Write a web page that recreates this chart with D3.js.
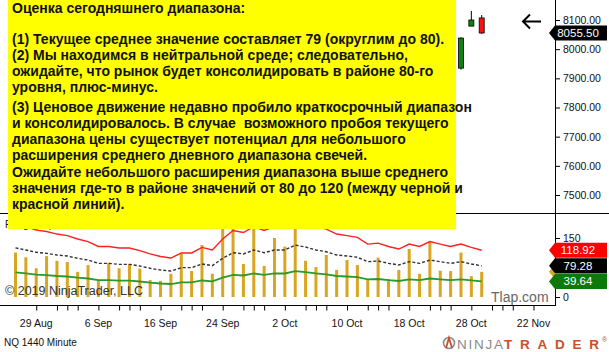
<!DOCTYPE html>
<html lang="ru">
<head>
    <meta charset="UTF-8">
    <title>NQ 1440 Minute</title>
    <script src="https://d3js.org/d3.v7.min.js"></script>
    <style>
        body { margin: 0; background: #fff; }
        svg { display: block; font-family: "Liberation Sans", Arial, sans-serif; }
        .note { font-size: 14px; font-weight: bold; fill: #111; white-space: pre; }
        .axis-lbl { font-size: 10.5px; fill: #111; }
    </style>
</head>
<body>
<div id="chart"></div>
<script>
// daily bars, 27 Aug .. 29 Oct 2019
const barDates = ["27 Aug","28 Aug","29 Aug","30 Aug","2 Sep","3 Sep","4 Sep","5 Sep","6 Sep",
    "9 Sep","10 Sep","11 Sep","12 Sep","13 Sep","16 Sep","17 Sep","18 Sep","19 Sep","20 Sep",
    "23 Sep","24 Sep","25 Sep","26 Sep","27 Sep","30 Sep","1 Oct","2 Oct","3 Oct","4 Oct",
    "7 Oct","8 Oct","9 Oct","10 Oct","11 Oct","14 Oct","15 Oct","16 Oct","17 Oct","18 Oct",
    "21 Oct","22 Oct","23 Oct","24 Oct","25 Oct","28 Oct","29 Oct"];

// daily range (orange bars)
const rangeVals = [113, 101, 73, 104, 92, 89, 64, 81, 42, 87, 73, 84, 72, 43, 41, 59, 111, 66, 132, 59,
    190, 215, 84, 200, 79, 150, 128, 230, 92, 76, 107, 69, 94, 81, 43, 100, 46, 69, 122, 59,
    141, 67, 66, 113, 53, 64];

// average range (black dashed), upper (red), lower (green)
const avgVals = [125, 119.5, 113.6, 111, 106.8, 104.2, 98.3, 94, 85.6, 85.6, 83, 83, 78.8, 73, 68.6, 66,
    74.6, 74.6, 84, 79.7, 98.3, 112.7, 109.4, 119.5, 112.7, 119.5, 119.5, 132, 127, 119.5, 115, 106.8,
    104.2, 101, 89.8, 91.5, 85.6, 81.4, 89.8, 85.6, 94, 89.8, 85.6, 89.8, 84, 79.28];
const upperVals = [187.5, 179, 170, 166.5, 160, 156, 147.5, 141, 128.5, 128.5, 124.5, 124.5, 118, 109.5, 103, 99,
    112, 112, 126, 119.5, 147.5, 169, 164, 179, 169, 179, 179, 198, 190.5, 179, 172.5, 160,
    156, 151.5, 134.5, 137, 128.5, 122, 134.5, 128.5, 141, 134.5, 128.5, 134.5, 126, 118.92];
const lowerVals = [62.5, 59.8, 56.8, 55.5, 53.4, 52.1, 49.2, 47, 42.8, 42.8, 41.5, 41.5, 39.4, 36.5, 34.3, 33,
    37.3, 37.3, 42, 39.9, 49.2, 56.4, 54.7, 59.8, 56.4, 59.8, 59.8, 66, 63.5, 59.8, 57.5, 53.4,
    52.1, 50.5, 44.9, 45.8, 42.8, 40.7, 44.9, 42.8, 47, 44.9, 42.8, 44.9, 42, 39.64];

// visible candles (the rest is behind the note)
const candleIdx = [43, 44, 45];
const candleOpen = [7935, 8079, 8107];
const candleHigh = [8041, 8131, 8117];
const candleLow = [7930, 8079, 8053];
const candleClose = [8038, 8100, 8055.5];
const lastPrice = 8055.50;

const priceTicks = [8100, 8000, 7900, 7800, 7700, 7600, 7500];
const rangeTicks = [150, 0];
const dateTickIdx = [2, 8, 14, 20, 26, 32, 38, 44, 50];
const dateTickLabels = ["29 Aug", "6 Sep", "16 Sep", "24 Sep", "2 Oct", "10 Oct", "18 Oct", "28 Oct", "22 Nov"];

const noteLines = [
    "Оценка сегодняшнего диапазона:",
    "",
    "(1) Текущее среднее значение составляет 79 (округлим до 80).",
    "(2) Мы находимся в нейтральной среде; следовательно,",
    "ожидайте, что рынок будет консолидировать в районе 80-го",
    "уровня, плюс-минус.",
    "(3) Ценовое движение недавно пробило краткосрочный диапазон",
    "и консолидировалось. В случае  возможного пробоя текущего",
    "диапазона цены существует потенциал для небольшого",
    "расширения среднего дневного диапазона свечей.",
    "Ожидайте небольшого расширения диапазона выше среднего",
    "значения где-то в районе значений от 80 до 120 (между черной и",
    "красной линий)."
];
const noteBaselines = [13, 0, 44, 60, 76, 92, 112, 128, 144, 160, 177, 193, 209];

const W = 609, H = 352;
const axisX = 555, axisY = 305;

const svg = d3.select("#chart").append("svg")
    .attr("width", W).attr("height", H);

svg.append("rect").attr("width", W).attr("height", H).attr("fill", "#fff");

const x = d3.scaleLinear().domain([0, 50]).range([15.5, 533.5]);
const yP = d3.scaleLinear().domain([7500, 8100]).range([195, 20]);
const yR = d3.scaleLinear().domain([0, 150]).range([297, 238]);

// indicator title (mostly hidden)
svg.append("text").attr("x", 5).attr("y", 228)
    .attr("font-size", 10).attr("fill", "#111").text("Range(14)");

// range bars
svg.selectAll(".rbar").data(rangeVals).enter().append("rect")
    .attr("class", "rbar")
    .attr("x", (d, i) => x(i) - 1.5)
    .attr("width", 3)
    .attr("y", d => yR(d))
    .attr("height", d => yR(0) - yR(d))
    .attr("fill", "#DAA520");

const line = d3.line().x((d, i) => x(i)).y(d => yR(d));

svg.append("path").datum(lowerVals).attr("d", line)
    .attr("fill", "none").attr("stroke", "#2a9a2a").attr("stroke-width", 1.8);
svg.append("path").datum(avgVals).attr("d", line)
    .attr("fill", "none").attr("stroke", "#333").attr("stroke-width", 1.4)
    .attr("stroke-dasharray", "3,2");
svg.append("path").datum(upperVals).attr("d", line)
    .attr("fill", "none").attr("stroke", "#ff2020").attr("stroke-width", 1.4);

svg.append("text").attr("x", 5).attr("y", 295)
    .attr("font-size", 12.5).attr("fill", "#333").text("© 2019 NinjaTrader, LLC");
svg.append("text").attr("x", 491).attr("y", 302)
    .attr("font-size", 14).attr("fill", "#666").text("Tlap.com");

// candles
candleIdx.forEach((ci, k) => {
    const up = candleClose[k] >= candleOpen[k];
    svg.append("line")
        .attr("x1", x(ci)).attr("x2", x(ci))
        .attr("y1", yP(candleHigh[k])).attr("y2", yP(candleLow[k]))
        .attr("stroke", "#000").attr("stroke-width", 1);
    const top = yP(Math.max(candleOpen[k], candleClose[k]));
    const bot = yP(Math.min(candleOpen[k], candleClose[k]));
    svg.append("rect")
        .attr("x", x(ci) - 2.5).attr("width", 5)
        .attr("y", top).attr("height", Math.max(1, bot - top))
        .attr("fill", up ? "#108010" : "#ff1010")
        .attr("stroke", "#000").attr("stroke-width", 0.8);
});

// arrow
svg.append("path")
    .attr("d", "M541,21.5H523M530,14.5L523,21.5L530,28.5")
    .attr("fill", "none").attr("stroke", "#000").attr("stroke-width", 2);

// panel frame lines
svg.append("line").attr("x1", 0).attr("x2", W).attr("y1", 213.5).attr("y2", 213.5).attr("stroke", "#000");
svg.append("line").attr("x1", axisX + 0.5).attr("x2", axisX + 0.5).attr("y1", 0).attr("y2", axisY + 1).attr("stroke", "#000");

// right price axis
const pAxis = svg.append("g").attr("transform", `translate(${axisX},0)`)
    .call(d3.axisRight(yP).tickValues(priceTicks).tickSize(5).tickPadding(3).tickFormat(d3.format(".2f")));
pAxis.select(".domain").remove();
pAxis.selectAll("text").attr("class", "axis-lbl").attr("fill", null);

const rAxis = svg.append("g").attr("transform", `translate(${axisX},0)`)
    .call(d3.axisRight(yR).tickValues(rangeTicks).tickSize(5).tickPadding(3));
rAxis.select(".domain").remove();
rAxis.selectAll("text").attr("class", "axis-lbl").attr("fill", null);

// value tags
function tag(cy, txt, fill) {
    const x0 = 549, x1 = 607, h = 15;
    svg.append("path")
        .attr("d", `M${x0},${cy}L${x0 + 6},${cy - h / 2}H${x1}V${cy + h / 2}H${x0 + 6}Z`)
        .attr("fill", fill);
    if (txt) {
        svg.append("text").attr("x", 578).attr("y", cy + 4)
            .attr("text-anchor", "middle").attr("font-size", 11.5)
            .attr("fill", "#fff").text(txt);
    }
}
tag(yP(lastPrice), d3.format(".2f")(lastPrice), "#000");
tag(yR(rangeVals[rangeVals.length - 1]), "", "#DAA520");
tag(yR(upperVals[upperVals.length - 1]), d3.format(".2f")(upperVals[upperVals.length - 1]), "#ff0000");
tag(yR(avgVals[avgVals.length - 1]), d3.format(".2f")(avgVals[avgVals.length - 1]), "#000");
tag(yR(lowerVals[lowerVals.length - 1]), d3.format(".2f")(lowerVals[lowerVals.length - 1]), "#0a7a0a");

// date axis
const minorIdx = [];
dateTickIdx.forEach(i => { if (i + 4 <= 50) minorIdx.push(i + 2, i + 3, i + 4); });
const xAxisG = svg.append("g").attr("transform", `translate(0,${axisY + 0.5})`);
xAxisG.append("line").attr("x1", 0).attr("x2", axisX + 1).attr("stroke", "#000");
xAxisG.call(d3.axisBottom(x).tickValues(dateTickIdx.concat(minorIdx)).tickSize(5).tickFormat(""));
xAxisG.select(".domain").remove();
svg.append("g").selectAll("text").data(dateTickIdx).enter().append("text")
    .attr("class", "axis-lbl")
    .attr("x", d => x(d)).attr("y", 327)
    .attr("text-anchor", "middle")
    .text((d, i) => dateTickLabels[i]);

svg.append("text").attr("x", 4).attr("y", 346)
    .attr("font-size", 10).attr("fill", "#111").text("NQ 1440 Minute");

// logo
const logo = svg.append("g");
logo.append("circle").attr("cx", 449).attr("cy", 343).attr("r", 5.5)
    .attr("fill", "none").attr("stroke", "#8a8a8a").attr("stroke-width", 1.6);
logo.append("path").attr("d", "M446,348L449,338L452,348")
    .attr("fill", "none").attr("stroke", "#c8502c").attr("stroke-width", 1.8);
logo.append("text").attr("x", 457).attr("y", 348.5).attr("font-size", 13.5)
    .attr("fill", "#8a8a8a").attr("textLength", 46).attr("lengthAdjust", "spacing").text("NINJA");
logo.append("text").attr("x", 504).attr("y", 348.5).attr("font-size", 13.5).attr("font-weight", "bold")
    .attr("fill", "#c8502c").attr("textLength", 95).attr("lengthAdjust", "spacing").text("TRADER");
logo.append("text").attr("x", 602).attr("y", 342).attr("font-size", 7)
    .attr("fill", "#c8502c").text("®");

// yellow note
svg.append("rect").attr("x", 8).attr("y", 0).attr("width", 448).attr("height", 229).attr("fill", "#ffff00");
svg.append("g").selectAll("text").data(noteLines).enter().append("text")
    .attr("class", "note")
    .attr("x", 12)
    .attr("y", (d, i) => noteBaselines[i])
    .text(d => d);
</script>
</body>
</html>
